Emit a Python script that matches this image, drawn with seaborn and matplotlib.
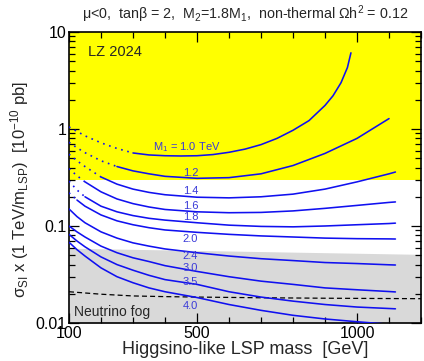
import numpy as np
import pandas as pd
import matplotlib
matplotlib.use("Agg")
import matplotlib.pyplot as plt
from matplotlib.ticker import FixedLocator, MultipleLocator, FuncFormatter
import seaborn as sns

# LSP mass grid [GeV]
mass = [100, 125, 150, 200, 250, 300, 350, 400, 500, 600, 700, 800, 900, 1000, 1100, 1120]
# M1 = 1.0 TeV curve has its own grid (steep rise near 1 TeV)
mass_m1_10 = [100, 150, 200, 250, 300, 350, 400, 450, 500, 550, 600, 650, 700, 750,
              800, 850, 900, 925, 950, 970, 981]
sigma_m1_10 = [1.05, 0.85, 0.72, 0.63, 0.566, 0.54, 0.53, 0.527, 0.53, 0.545, 0.575, 0.62,
               0.69, 0.80, 0.97, 1.22, 1.75, 2.2, 3.0, 4.3, 6.1]

sigma_m1_12 = [0.73, 0.64, 0.57, 0.47, 0.41, 0.37, 0.345, 0.325, 0.31, 0.315, 0.345, 0.42, 0.56, 0.80, 1.28, np.nan]
sigma_m1_14 = [0.55, 0.47, 0.41, 0.32, 0.27, 0.24, 0.222, 0.21, 0.198, 0.195, 0.2, 0.213, 0.24, 0.285, 0.345, 0.36]
sigma_m1_16 = [0.39, 0.33, 0.285, 0.225, 0.19, 0.17, 0.157, 0.148, 0.14, 0.137, 0.138, 0.143, 0.152, 0.163, 0.175, 0.177]
sigma_m1_18 = [0.29, 0.235, 0.2, 0.16, 0.14, 0.128, 0.12, 0.115, 0.108, 0.102, 0.099, 0.098, 0.1, 0.103, 0.106, 0.107]
sigma_m1_20 = [0.22, 0.185, 0.16, 0.13, 0.113, 0.103, 0.096, 0.091, 0.086, 0.082, 0.079, 0.077, 0.075, 0.074, 0.0736, 0.0734]
sigma_m1_24 = [0.15, 0.125, 0.108, 0.087, 0.075, 0.067, 0.062, 0.058, 0.053, 0.049, 0.046, 0.044, 0.042, 0.041, 0.0398, 0.0396]
sigma_m1_30 = [0.10, 0.087, 0.077, 0.062, 0.053, 0.047, 0.043, 0.039, 0.034, 0.030, 0.027, 0.025, 0.023, 0.022, 0.0211, 0.0209]
sigma_m1_35 = [0.082, 0.07, 0.061, 0.048, 0.04, 0.035, 0.031, 0.028, 0.025, 0.021, 0.0185, 0.0168, 0.0155, 0.0146, 0.0141, 0.014]
sigma_m1_40 = [0.068, 0.057, 0.049, 0.037, 0.03, 0.026, 0.023, 0.021, 0.0183, 0.0155, 0.0135, 0.012, 0.011, 0.0103, 0.0097, 0.0095]

m1_labels = ["M$_1$ = 1.0 TeV", "1.2", "1.4", "1.6", "1.8", "2.0", "2.4", "3.0", "3.5", "4.0"]
# below this mass the curve is drawn dotted
dotted_until = [300, 250, 200, 150, 150, 125, 100, 100, 100, 100]
label_mass = [469, 480, 480, 480, 480, 480, 480, 480, 480, 480]
label_sigma = [0.652, 0.35, 0.227, 0.159, 0.1225, 0.0734, 0.0485, 0.0365, 0.0262, 0.015]

# excluded / fog regions
lz_limit = 0.3
fog_mass = [100, 1200]
fog_top = [0.059, 0.051]
nu_mass = [100, 200, 300, 400, 500, 700, 900, 1200]
nu_floor = [0.021, 0.0198, 0.019, 0.0187, 0.0185, 0.0182, 0.018, 0.0178]

sns.set_theme(style="ticks")
plt.rcParams["font.family"] = ["Liberation Sans", "DejaVu Sans"]
plt.rcParams["mathtext.fontset"] = "custom"
plt.rcParams["mathtext.rm"] = "Liberation Sans"
plt.rcParams["mathtext.it"] = "Liberation Sans:italic"

fig = plt.figure(figsize=(4.24, 3.61), dpi=100)
ax = fig.add_axes([0.1627, 0.1053, 0.8303, 0.8061])

ax.set_yscale("log")
ax.set_xlim(100, 1200)
ax.set_ylim(0.01, 10)

ax.axhspan(lz_limit, 10, color="#ffff00", lw=0, zorder=0)
ax.fill_between(fog_mass, 0.01, fog_top, color="#d9d9d9", lw=0, zorder=0)
sns.lineplot(x=nu_mass, y=nu_floor, ax=ax, color="black", lw=0.9,
             linestyle=(0, (4, 2.5)), zorder=2)

curves = [sigma_m1_10, sigma_m1_12, sigma_m1_14, sigma_m1_16, sigma_m1_18,
          sigma_m1_20, sigma_m1_24, sigma_m1_30, sigma_m1_35, sigma_m1_40]
blue = "#1010f0"
for i, sig in enumerate(curves):
    mm = mass_m1_10 if i == 0 else mass
    df = pd.DataFrame({"mass": mm, "sigma": sig}).dropna()
    solid = df[df["mass"] >= dotted_until[i]]
    dots = df[df["mass"] <= dotted_until[i]]
    sns.lineplot(data=solid, x="mass", y="sigma", ax=ax, color=blue, lw=1.15, zorder=3)
    if len(dots) > 1:
        sns.lineplot(data=dots, x="mass", y="sigma", ax=ax, color=blue, lw=1.2,
                     linestyle=(0, (1, 2.8)), zorder=3)
    ax.text(label_mass[i], label_sigma[i], m1_labels[i], color="#3a3ad8",
            fontsize=8, ha="center", va="center", zorder=4)

ax.text(159, 6.2, "LZ 2024", fontsize=10.5, ha="left", va="center")
ax.text(116, 0.013, "Neutrino fog", fontsize=10, ha="left", va="center")

ax.xaxis.set_major_locator(FixedLocator([100, 500, 1000]))
ax.xaxis.set_minor_locator(MultipleLocator(100))
ax.yaxis.set_major_formatter(FuncFormatter(lambda v, _: f"{v:g}"))
ax.tick_params(which="both", direction="in", top=True, right=True, colors="black",
               labelsize=11.5, width=0.9)
ax.tick_params(which="major", length=7, pad=2)
ax.tick_params(which="minor", length=4)
for s in ax.spines.values():
    s.set_linewidth(1.2)
    s.set_color("black")

ax.set_xlabel("Higgsino-like LSP mass  [GeV]", fontsize=13, labelpad=0)
ax.set_ylabel("")
fig.text(0.047, 0.474,
         r"σ$_\mathrm{SI}$ x (1 TeV/m$_\mathrm{LSP}$)  [10$^{-10}$ pb]",
         rotation=90, fontsize=12, ha="center", va="center")
fig.text(0.578, 0.961, "μ<0,  tanβ = 2,  M$_2$=1.8M$_1$,  non-thermal Ωh$^2$ = 0.12",
         fontsize=10.3, ha="center", va="center")

fig.savefig("out.png", dpi=100)
